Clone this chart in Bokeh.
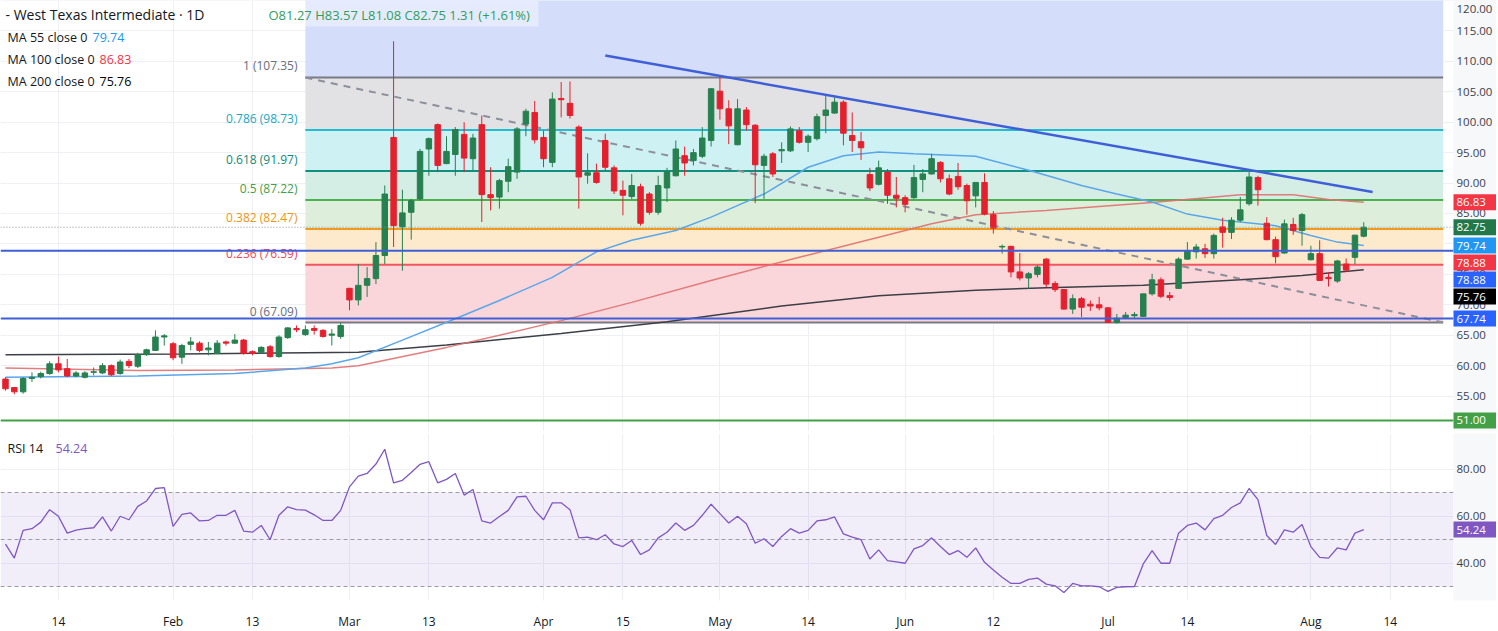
import numpy as np
from bokeh.plotting import figure
from bokeh.models import Range1d, FixedTicker, Grid
from bokeh.layouts import column
from bokeh.embed import file_html
from bokeh.resources import INLINE
from bokeh.core.properties import value

# ---------------- data ----------------
opens = [57.8, 56.4, 55.7, 57.9, 58.2, 58.7, 60.3, 59.5, 58.3, 58.1,
         58.9, 58.8, 60.0, 58.7, 60.7, 59.9, 61.8, 62.5, 64.7, 63.6,
         61.4, 63.5, 63.7, 62.6, 62.0, 63.9, 63.7, 64.2, 62.3, 62.2,
         63.1, 61.5, 64.6, 66.1, 65.1, 66.1, 65.8, 65.0, 64.8, 72.7,
         70.8, 73.2, 74.3, 78.1, 97.5, 82.8, 85.2, 87.4, 95.6, 99.6,
         93.2, 94.7, 98.0, 94.0, 99.6, 88.1, 87.7, 90.3, 91.8, 99.7,
         101.6, 97.5, 93.4, 103.9, 103.1, 99.2, 91.3, 91.7, 97.0, 92.5,
         88.8, 87.8, 89.4, 88.2, 85.2, 89.2, 91.2, 94.5, 93.7, 94.4,
         97.0, 105.1, 102.2, 96.3, 102.0, 99.5, 92.9, 94.8, 95.3, 95.3,
         98.6, 96.7, 97.3, 101.1, 101.5, 103.3, 97.8, 96.8, 91.4, 89.8,
         91.8, 88.0, 87.6, 87.6, 90.6, 91.5, 93.4, 90.7, 91.1, 89.6,
         87.9, 90.1, 84.8, 79.5, 79.6, 75.4, 74.4, 75.0, 77.5, 73.5,
         72.5, 69.3, 71.0, 70.1, 70.0, 69.5, 67.1, 67.9, 68.2, 68.1,
         71.8, 74.1, 71.5, 72.7, 77.5, 78.7, 79.2, 78.4, 82.8, 81.9,
         83.9, 86.6, 90.9, 83.4, 80.7, 78.5, 83.2, 82.2, 77.4, 78.4,
         74.5, 73.9, 76.7, 77.8, 81.27]
highs = [58.1, 56.5, 58.1, 58.9, 59.0, 60.7, 61.5, 61.1, 59.1, 59.1,
         59.7, 60.4, 60.2, 61.0, 61.1, 62.1, 62.8, 65.8, 65.2, 63.9,
         63.6, 64.7, 64.0, 63.9, 64.2, 64.1, 65.2, 64.4, 62.5, 63.2,
         63.4, 65.0, 66.3, 66.6, 66.6, 66.6, 66.0, 66.0, 67.1, 72.8,
         76.7, 76.2, 80.3, 89.6, 113.3, 88.9, 87.4, 95.6, 97.5, 99.8,
         97.7, 99.2, 100.0, 98.1, 101.1, 92.6, 90.7, 94.0, 99.2, 102.2,
         103.5, 98.6, 104.9, 106.6, 106.7, 99.5, 94.9, 93.2, 98.1, 92.9,
         90.4, 91.5, 89.9, 88.5, 91.2, 92.5, 97.0, 96.0, 95.6, 99.2,
         105.6, 107.35, 103.6, 103.8, 102.5, 99.7, 94.8, 95.1, 96.7, 99.3,
         99.2, 98.0, 101.4, 104.4, 104.1, 103.6, 101.6, 98.4, 92.5, 93.7,
         92.3, 91.0, 88.0, 93.0, 92.3, 94.8, 93.6, 91.4, 93.3, 89.9,
         90.1, 91.6, 85.4, 79.9, 79.7, 78.5, 75.4, 76.5, 77.7, 73.9,
         72.6, 71.7, 71.3, 70.7, 71.3, 69.6, 68.5, 68.8, 68.8, 71.8,
         75.1, 74.5, 72.1, 77.8, 80.3, 80.0, 80.0, 81.7, 84.3, 84.4,
         87.7, 91.8, 91.2, 84.4, 81.2, 84.0, 84.3, 85.1, 79.7, 80.6,
         75.4, 77.4, 77.6, 81.5, 83.57]
lows = [55.9, 55.3, 55.4, 57.3, 57.9, 58.5, 58.9, 58.1, 58.1, 57.9,
        58.4, 58.6, 58.3, 58.5, 59.6, 59.6, 61.6, 62.4, 63.3, 60.9,
        60.3, 62.5, 62.2, 61.7, 61.9, 63.3, 63.6, 61.8, 61.7, 61.9,
        61.3, 61.3, 64.4, 65.5, 64.9, 65.1, 64.6, 63.3, 64.4, 69.1,
        69.9, 71.3, 73.4, 76.7, 79.5, 75.6, 80.7, 87.1, 91.2, 91.8,
        93.1, 91.2, 91.8, 92.1, 83.6, 85.5, 85.8, 88.5, 90.7, 97.7,
        96.5, 92.6, 92.6, 100.8, 100.6, 85.8, 89.9, 89.9, 92.1, 88.2,
        84.7, 87.4, 83.0, 84.8, 84.8, 86.9, 91.1, 91.2, 92.9, 94.1,
        96.0, 100.4, 96.4, 96.2, 98.6, 86.7, 87.4, 91.0, 93.3, 95.1,
        96.5, 95.1, 97.0, 98.2, 101.4, 96.2, 95.1, 93.8, 88.7, 89.6,
        86.6, 86.0, 85.2, 87.4, 88.5, 91.4, 90.1, 88.0, 88.9, 84.8,
        86.0, 84.7, 81.7, 78.4, 74.5, 74.0, 72.6, 74.5, 72.9, 72.1,
        69.2, 68.5, 68.0, 69.0, 69.1, 67.09, 66.9, 67.7, 67.7, 68.0,
        71.5, 71.1, 70.7, 72.6, 77.4, 77.6, 77.7, 77.6, 79.4, 80.8,
        83.6, 86.3, 86.3, 80.6, 76.8, 78.4, 81.5, 79.7, 77.3, 73.9,
        73.0, 73.6, 75.4, 76.7, 81.08]
closes = [56.2, 55.7, 57.9, 58.1, 58.7, 60.3, 59.3, 58.3, 58.8, 58.8,
          59.0, 60.0, 58.5, 60.6, 60.0, 61.8, 62.6, 64.7, 64.9, 61.3,
          63.3, 63.9, 62.5, 62.9, 63.7, 63.7, 64.2, 62.0, 62.0, 63.0,
          61.5, 64.7, 66.2, 65.9, 65.9, 65.8, 64.8, 65.2, 66.6, 70.8,
          73.2, 74.3, 78.1, 88.2, 83.0, 85.1, 87.1, 95.2, 97.3, 92.9,
          95.2, 98.8, 94.1, 97.4, 88.1, 87.6, 90.4, 92.7, 98.9, 101.8,
          97.1, 94.0, 103.8, 103.7, 101.1, 91.0, 91.7, 90.1, 92.6, 88.7,
          88.0, 89.6, 83.4, 85.2, 89.6, 91.8, 95.6, 93.3, 95.0, 97.4,
          105.5, 102.2, 99.4, 102.2, 99.6, 93.0, 94.4, 91.5, 95.5, 98.9,
          96.7, 97.7, 100.9, 102.0, 103.3, 98.2, 97.0, 95.8, 89.2, 92.5,
          88.0, 87.5, 86.5, 90.9, 91.5, 94.0, 90.7, 88.2, 89.4, 87.1,
          90.1, 84.9, 82.6, 79.6, 75.4, 74.4, 75.1, 76.2, 73.4, 72.5,
          69.3, 71.0, 69.6, 69.8, 69.5, 67.1, 67.8, 68.3, 68.4, 71.8,
          74.1, 71.4, 71.2, 77.5, 78.9, 79.5, 78.4, 81.4, 81.9, 83.9,
          85.6, 91.0, 88.9, 80.7, 77.9, 83.3, 82.2, 84.8, 78.4, 74.0,
          74.3, 77.2, 75.7, 81.44, 82.75]

# moving averages, sampled along the drawn lines (bar index, value)
ma55_bars = [0, 15, 26, 34, 37, 40, 45, 51, 56, 62, 67, 71, 76, 80, 86,
             91, 95, 99, 103, 110, 116, 122, 126, 130, 134, 138, 144, 148, 151, 154]
ma55_vals = [58.1, 58.3, 58.7, 59.6, 60.3, 61.3, 64.2, 67.7, 70.7, 74.5, 78.7, 80.6, 82.2, 84.4, 88.2,
             92.6, 94.5, 95.1, 94.8, 94.4, 92.1, 89.6, 88.2, 86.9, 84.9, 83.9, 83.0, 81.4, 80.3, 79.74]
ma100_bars = [0, 15, 26, 37, 40, 50, 56, 63, 71, 80, 90, 99, 105, 110, 118, 130, 140, 146, 150, 154]
ma100_vals = [59.6, 59.2, 59.3, 59.6, 60.0, 63.0, 65.0, 67.4, 70.4, 74.0, 77.8, 81.1, 83.3, 84.8, 85.5,
              86.8, 88.1, 88.1, 87.3, 86.83]
ma200_bars = [0, 20, 40, 50, 63, 75, 88, 99, 110, 118, 129, 140, 147, 154]
ma200_vals = [61.8, 61.9, 62.2, 63.4, 65.3, 67.2, 69.8, 71.5, 72.4, 72.8, 73.2, 74.1, 74.8, 75.76]

rsi14 = [48.0, 42.1, 53.9, 54.6, 57.4, 62.7, 59.9, 52.7, 54.0, 54.6,
         55.0, 59.6, 53.6, 59.9, 58.4, 64.1, 66.4, 71.7, 72.1, 55.6,
         60.7, 61.3, 57.9, 58.1, 60.3, 60.3, 62.4, 53.6, 53.1, 56.0,
         49.9, 60.3, 63.9, 62.7, 62.5, 60.5, 58.1, 58.1, 62.4, 72.4,
         77.0, 78.1, 82.1, 88.4, 74.1, 75.2, 78.5, 82.0, 83.1, 74.1,
         75.6, 78.1, 68.9, 71.3, 57.9, 57.0, 59.8, 62.4, 68.1, 68.4,
         62.4, 58.4, 65.6, 65.6, 62.7, 50.7, 51.0, 49.9, 52.0, 48.1,
         47.0, 49.6, 43.6, 45.6, 50.7, 53.1, 57.0, 53.9, 56.0, 60.3,
         65.0, 61.0, 57.0, 59.9, 56.7, 48.4, 50.3, 47.0, 51.3, 54.6,
         52.7, 53.9, 57.9, 58.4, 59.6, 52.4, 51.0, 49.9, 41.7, 45.6,
         41.0, 40.5, 39.9, 46.0, 47.4, 50.7, 47.0, 43.6, 45.3, 42.4,
         46.4, 40.3, 37.0, 33.9, 31.3, 31.3, 33.0, 33.6, 31.0, 30.3,
         27.4, 31.3, 30.3, 30.3, 29.9, 27.9, 29.6, 29.9, 30.0, 39.6,
         45.3, 39.9, 39.9, 52.7, 56.0, 57.0, 54.1, 58.9, 60.3, 63.6,
         65.6, 71.7, 67.0, 51.7, 47.9, 54.1, 53.1, 56.4, 47.0, 42.4,
         42.1, 46.4, 45.6, 52.7, 54.24]

fib_ratio_labels = ["0", "0.236", "0.382", "0.5", "0.618", "0.786", "1"]
fib_prices = [67.09, 76.59, 82.47, 87.22, 91.97, 98.73, 107.35]
fib_top_zone = 132.23          # 1.618 level, beyond the visible range
fib_start_bar, fib_end_bar = 34, 163
trend_bars = [68, 155]
trend_prices = [110.95, 88.55]
hline_prices = [78.88, 67.74]
support_price = 51.00

tick_bars = [6, 19, 28, 39, 48, 61, 70, 81, 91, 102, 112, 125, 134, 148, 157]
tick_labels = ["14", "Feb", "13", "Mar", "13", "Apr", "15", "May", "14", "Jun", "12", "Jul", "14", "Aug", "14"]
price_ticks = [55, 60, 65, 70, 75, 80, 85, 90, 95, 100, 105, 110, 115, 120]
rsi_ticks = [40, 60, 80]
rsi_levels = [70, 50, 30]

tag_values = [86.83, 82.75, 79.74, 78.88, 78.88, 75.76, 67.74, 51.00]
tag_colors = ["#f23645", "#22784a", "#2196f3", "#f23645", "#2962ff", "#000000", "#2962ff", "#43a047"]

# ---------------- layout helpers (pixels of the reference) ----------------
FONT = "Open Sans"
BAR0_PX, BAR_PX = 5.0, 8.82
def bx(px):
    return (px - BAR0_PX) / BAR_PX
def pv(yp):
    return 67.09 + (322.0 - yp) / 6.086
def ppx(v):
    return 322.0 - (v - 67.09) * 6.086
def rv(yp):
    return 70.0 + (492.0 - yp) / 2.35
def rpx(v):
    return 492.0 - (v - 70.0) * 2.35

W = 1496
MAIN_H, GAP, RSI_H, XAX_H = 431, 2, 167, 30
RSI_TOP = MAIN_H + GAP
PLOT_R = 1453          # right edge of the drawing area; price scale to the right
LBL_X = 1456

GREEN, RED = "#26804f", "#e5202e"
GRID = "#eef0f5"
AXIS_TXT = "#3a3e4a"
SCALE_BG = "#f7f8fa"

p = figure(frame_width=W, frame_height=MAIN_H,
           x_range=Range1d(bx(0), bx(W)), y_range=Range1d(pv(MAIN_H), pv(0)),
           x_axis_location=None, y_axis_location=None, toolbar_location=None,
           output_backend="svg", min_border=0)
r = figure(frame_width=W, frame_height=RSI_H, x_range=p.x_range,
           y_range=Range1d(rv(RSI_TOP + RSI_H), rv(RSI_TOP)),
           x_axis_location="below", y_axis_location=None, toolbar_location=None,
           output_backend="svg", min_border=0, min_border_top=GAP, min_border_bottom=XAX_H)

for fig in (p, r):
    fig.outline_line_color = None
    fig.background_fill_color = "white"
    fig.border_fill_color = "white"
    fig.grid.visible = False
    fig.add_layout(Grid(dimension=0, ticker=FixedTicker(ticks=tick_bars), grid_line_color=GRID))

p.add_layout(Grid(dimension=1, ticker=FixedTicker(ticks=price_ticks), grid_line_color=GRID))
r.add_layout(Grid(dimension=1, ticker=FixedTicker(ticks=rsi_ticks), grid_line_color=GRID))

xa = r.xaxis[0]
xa.ticker = FixedTicker(ticks=tick_bars)
xa.major_label_overrides = {b: t for b, t in zip(tick_bars, tick_labels)}
xa.axis_line_color = None
xa.major_tick_line_color = None
xa.minor_tick_line_color = None
xa.major_label_text_font = FONT
xa.major_label_text_font_size = "12px"
xa.major_label_text_color = "#131722"
xa.major_label_standoff = 6

# ---------------- fib retracement zones ----------------
zone_colors = ["#fad6da", "#fdeacd", "#ddefdb", "#d4ede5", "#cef1f4", "#e2e2e5", "#d4defa"]
zone_tops = fib_prices[1:] + [fib_top_zone]
p.quad(left=fib_start_bar, right=fib_end_bar, bottom=fib_prices, top=zone_tops,
       fill_color=zone_colors, line_color=None)

# legend backdrop behind the OHLC line
p.quad(left=bx(262), right=bx(538), bottom=pv(26), top=pv(0), fill_color="white",
       fill_alpha=0.4, line_color=None)

level_colors = ["#787b86", "#f05560", "#f29a1f", "#4caf50", "#11907f", "#22bcd0", "#787b86"]
label_colors = ["#6a6d78", "#e8485a", "#ee9514", "#43a047", "#0e8a7a", "#19a8c0", "#6a6d78"]
p.segment(x0=fib_start_bar, x1=fib_end_bar, y0=fib_prices, y1=fib_prices,
          line_color=level_colors, line_width=2)
p.text(x=[bx(297)] * len(fib_prices), y=fib_prices,
       text=[f"{a} ({v:.2f})" for a, v in zip(fib_ratio_labels, fib_prices)],
       text_color=label_colors, text_font=value(FONT), text_font_size="12px",
       text_align="right", text_baseline="bottom", y_offset=-3)
p.line([fib_start_bar, fib_end_bar], [fib_prices[-1], fib_prices[0]], line_color="#8c8f99",
       line_width=2, line_dash="7 6")

# ---------------- moving averages ----------------
p.line(ma200_bars, ma200_vals, line_color="#3c3f46", line_width=1.5)
p.line(ma100_bars, ma100_vals, line_color="#e07070", line_width=1.5, line_alpha=0.9)
p.line(ma55_bars, ma55_vals, line_color="#5aa6ea", line_width=1.5)

# ---------------- candles ----------------
o = np.array(opens); c = np.array(closes)
h = np.maximum(np.array(highs), np.maximum(o, c))
l = np.minimum(np.array(lows), np.minimum(o, c))
idx = np.arange(len(o))
cols = np.where(c >= o, GREEN, RED).tolist()
p.segment(x0=idx, x1=idx, y0=h, y1=l, line_color=cols, line_width=1)
p.vbar(x=idx, width=0.62, top=np.maximum(o, c), bottom=np.minimum(o, c),
       fill_color=cols, line_color=cols, line_width=1)

# ---------------- drawings ----------------
x_left, x_right = bx(0), bx(PLOT_R)
p.line(trend_bars, trend_prices, line_color="#3f5fd8", line_width=2.5)
p.segment(x0=[x_left] * len(hline_prices), x1=[x_right] * len(hline_prices),
          y0=hline_prices, y1=hline_prices, line_color="#3f5fd8", line_width=2)
p.segment(x0=[x_left], x1=[x_right], y0=[support_price], y1=[support_price],
          line_color="#43a047", line_width=2)
p.segment(x0=[x_left], x1=[x_right], y0=[closes[-1]], y1=[closes[-1]],
          line_color="#8a8d96", line_width=1, line_dash="1 2")

# ---------------- header / legend texts ----------------
p.text(x=[bx(5)], y=[pv(14)], text=["- West Texas Intermediate · 1D"], text_color="#131722",
       text_font=value(FONT), text_font_size="14px", text_baseline="middle")
p.text(x=[bx(268)], y=[pv(14)],
       text=[f"O{opens[-1]:.2f} H{highs[-1]:.2f} L{lows[-1]:.2f} C{closes[-1]:.2f} "
             f"{closes[-1]-closes[-2]:.2f} ({(closes[-1]-closes[-2])/closes[-2]*100:+.2f}%)"],
       text_color="#2f9e5e", text_font=value(FONT), text_font_size="13px", text_baseline="middle")
leg_names = ["MA 55 close 0", "MA 100 close 0", "MA 200 close 0"]
leg_vals = [ma55_vals[-1], ma100_vals[-1], ma200_vals[-1]]
leg_cols = ["#2196f3", "#f23645", "#000000"]
leg_rows_px = [37, 59, 81]
leg_val_px = [92, 99, 99]
p.text(x=[bx(7)] * 3, y=[pv(v) for v in leg_rows_px], text=leg_names, text_color="#131722",
       text_font=value(FONT), text_font_size="12.5px", text_baseline="middle")
p.text(x=[bx(v) for v in leg_val_px], y=[pv(v) for v in leg_rows_px],
       text=[f"{v:.2f}" for v in leg_vals], text_color=leg_cols,
       text_font=value(FONT), text_font_size="12.5px", text_baseline="middle")

# ---------------- price scale (right) ----------------
p.quad(left=bx(PLOT_R), right=bx(W + 10), bottom=pv(MAIN_H + 5), top=pv(-5),
       fill_color=SCALE_BG, line_color=None)
p.text(x=[bx(LBL_X)] * len(price_ticks), y=[pv(max(ppx(t), 8)) for t in price_ticks],
       text=[f"{t:.2f}" for t in price_ticks],
       text_color=AXIS_TXT, text_font=value(FONT), text_font_size="11.5px", text_baseline="middle")

TAG_H = 17
prev = -1e9
tag_y = []
for v in tag_values:
    ypx = max(ppx(v), prev + TAG_H)
    prev = ypx
    tag_y.append(ypx)
p.quad(left=bx(PLOT_R), right=bx(W + 10), top=[pv(y - TAG_H / 2 + 0.5) for y in tag_y],
       bottom=[pv(y + TAG_H / 2 - 0.5) for y in tag_y], fill_color=tag_colors, line_color=None)
p.text(x=[bx(LBL_X)] * len(tag_values), y=[pv(y) for y in tag_y],
       text=[f"{v:.2f}" for v in tag_values], text_color="white", text_font=value(FONT),
       text_font_size="11.5px", text_baseline="middle")

# ---------------- RSI pane ----------------
r.quad(left=bx(0), right=bx(PLOT_R), bottom=30, top=70, fill_color="#7e57c2",
       fill_alpha=0.1, line_color=None)
r.segment(x0=[bx(0)] * 3, x1=[bx(PLOT_R)] * 3, y0=rsi_levels, y1=rsi_levels,
          line_color="#9a9ca5", line_width=1, line_dash="4 3")
r.line(np.arange(len(rsi14)), rsi14, line_color="#7e57c2", line_width=1.3)
r.text(x=[bx(7)], y=[rv(448)], text=["RSI 14"], text_color="#131722", text_font=value(FONT),
       text_font_size="12.5px", text_baseline="middle")
r.text(x=[bx(55)], y=[rv(448)], text=[f"{rsi14[-1]:.2f}"], text_color="#7e57c2",
       text_font=value(FONT), text_font_size="12.5px", text_baseline="middle")
r.quad(left=bx(PLOT_R), right=bx(W + 10), bottom=rv(RSI_TOP + RSI_H + 5), top=rv(RSI_TOP - 5),
       fill_color=SCALE_BG, line_color=None)
r.text(x=[bx(LBL_X)] * len(rsi_ticks), y=rsi_ticks, text=[f"{t:.2f}" for t in rsi_ticks],
       text_color=AXIS_TXT, text_font=value(FONT), text_font_size="11.5px", text_baseline="middle")
ry = rpx(rsi14[-1])
r.quad(left=[bx(PLOT_R)], right=[bx(W + 10)], top=[rv(ry - TAG_H / 2 + 0.5)],
       bottom=[rv(ry + TAG_H / 2 - 0.5)], fill_color="#7e57c2", line_color=None)
r.text(x=[bx(LBL_X)], y=[rsi14[-1]], text=[f"{rsi14[-1]:.2f}"], text_color="white",
       text_font=value(FONT), text_font_size="11.5px", text_baseline="middle")

layout = column(p, r)
open("out.html", "w").write(file_html(layout, INLINE))
